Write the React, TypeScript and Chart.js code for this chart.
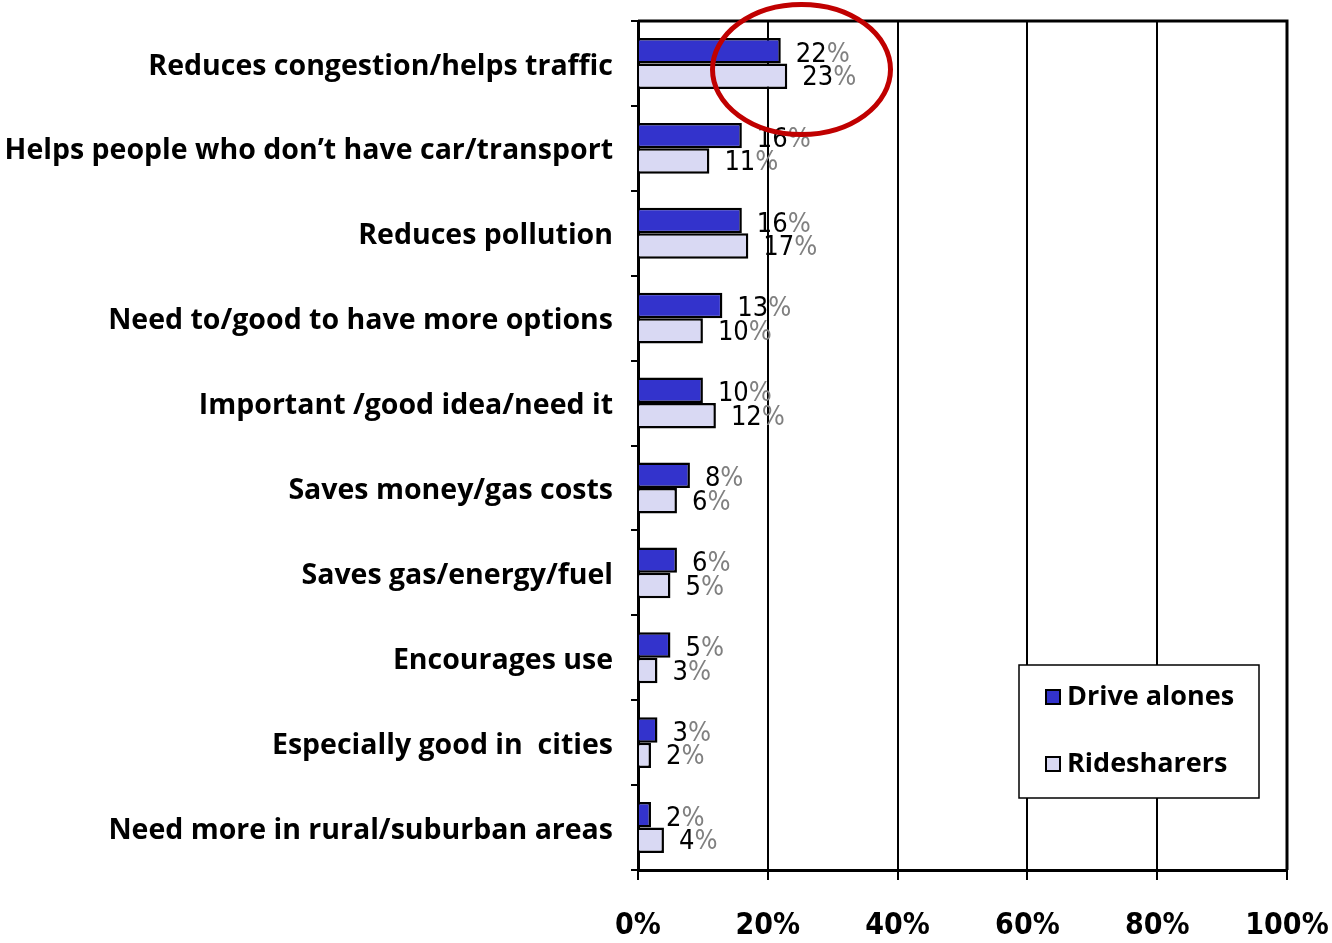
import React, { useEffect, useRef } from "react";
import { Chart, registerables } from "chart.js";

Chart.register(...registerables);

const categories = [
  "Reduces congestion/helps traffic",
  "Helps people who don\u2019t have car/transport",
  "Reduces pollution",
  "Need to/good to have more options",
  "Important /good idea/need it",
  "Saves money/gas costs",
  "Saves gas/energy/fuel",
  "Encourages use",
  "Especially good in  cities",
  "Need more in rural/suburban areas",
];
const driveAlones = [22, 16, 16, 13, 10, 8, 6, 5, 3, 2];
const ridesharers = [23, 11, 17, 10, 12, 6, 5, 3, 2, 4];
const seriesNames = ["Drive alones", "Ridesharers"];
const xTicks = [0, 20, 40, 60, 80, 100];

const DARK = "#3333cc";
const LIGHT = "#d9d9f3";
const CAT_FONT = "'Open Sans', sans-serif";
const NARROW = "'Liberation Sans Narrow', 'DejaVu Sans Condensed', sans-serif";

const decorPlugin = {
  id: "decor",
  afterDatasetsDraw(chart: any) {
    const ctx = chart.ctx;
    const area = chart.chartArea;
    ctx.save();
    // value labels
    chart.data.datasets.forEach((ds: any, di: number) => {
      const meta = chart.getDatasetMeta(di);
      meta.data.forEach((bar: any, i: number) => {
        const v = ds.data[i];
        const num = String(v);
        ctx.font = `27px ${NARROW}`;
        ctx.textBaseline = "middle";
        ctx.textAlign = "left";
        const x = bar.x + 15;
        const y = bar.y + (di === 0 ? 4 : 2);
        ctx.fillStyle = "#000";
        ctx.fillText(num, x, y);
        const w = ctx.measureText(num).width;
        ctx.fillStyle = "#808080";
        ctx.fillText("%", x + w, y);
      });
    });
    // top and right border
    ctx.strokeStyle = "#000";
    ctx.lineWidth = 3;
    ctx.beginPath();
    ctx.moveTo(area.left, area.top);
    ctx.lineTo(area.right, area.top);
    ctx.lineTo(area.right, area.bottom);
    ctx.stroke();
    // legend box
    const lx = 1019, ly = 665, lw = 240, lh = 133;
    ctx.fillStyle = "#fff";
    ctx.fillRect(lx, ly, lw, lh);
    ctx.lineWidth = 1.5;
    ctx.strokeRect(lx, ly, lw, lh);
    const items = [
      { name: seriesNames[0], color: DARK, cy: 697 },
      { name: seriesNames[1], color: LIGHT, cy: 764 },
    ];
    items.forEach((it) => {
      ctx.fillStyle = it.color;
      ctx.fillRect(1046, it.cy - 7, 14, 14);
      ctx.lineWidth = 2;
      ctx.strokeStyle = "#000";
      ctx.strokeRect(1046, it.cy - 7, 14, 14);
      ctx.fillStyle = "#000";
      ctx.font = `bold 27px ${CAT_FONT}`;
      ctx.textAlign = "left";
      ctx.textBaseline = "middle";
      ctx.fillText(it.name, 1067, it.cy);
    });
    // red ellipse
    ctx.strokeStyle = "#c00000";
    ctx.lineWidth = 5;
    ctx.beginPath();
    ctx.ellipse(801.5, 69.5, 89, 65, 0, 0, Math.PI * 2);
    ctx.stroke();
    ctx.restore();
  },
};

export default function App() {
  const ref = useRef<HTMLCanvasElement | null>(null);
  useEffect(() => {
    document.body.style.margin = "0";
    const chart = new Chart(ref.current as HTMLCanvasElement, {
      type: "bar",
      data: {
        labels: categories,
        datasets: [
          {
            label: seriesNames[0],
            data: driveAlones,
            backgroundColor: DARK,
            borderColor: "#000",
            borderWidth: 2.5,
            barPercentage: 1.0,
            categoryPercentage: 0.6,
          },
          {
            label: seriesNames[1],
            data: ridesharers,
            backgroundColor: LIGHT,
            borderColor: "#000",
            borderWidth: 2.5,
            barPercentage: 1.0,
            categoryPercentage: 0.6,
          },
        ],
      },
      options: {
        indexAxis: "y",
        responsive: false,
        animation: false,
        layout: { padding: { top: 21, right: 45, left: 0, bottom: 0 } },
        plugins: { legend: { display: false }, tooltip: { enabled: false } },
        scales: {
          x: {
            min: 0,
            max: 100,
            afterBuildTicks: (s: any) => {
              s.ticks = xTicks.map((v) => ({ value: v }));
            },
            afterFit: (s: any) => {
              s.height = 73;
              s.paddingLeft = 0;
              s.paddingRight = 0;
            },
            grid: {
              color: "#000",
              lineWidth: 2,
              tickLength: 10,
              drawTicks: true,
            },
            border: { color: "#000", width: 3 },
            ticks: {
              color: "#000",
              padding: 28,
              font: { family: NARROW, size: 30, weight: "bold" },
              callback: (v: any) => v + "%",
            },
          },
          y: {
            afterFit: (s: any) => {
              s.width = 638;
              s.paddingTop = 0;
              s.paddingBottom = 0;
            },
            grid: {
              offset: true,
              drawOnChartArea: false,
              drawTicks: true,
              tickLength: 7,
              color: "#000",
              lineWidth: 2,
            },
            border: { color: "#000", width: 3 },
            ticks: {
              color: "#000",
              padding: 18,
              labelOffset: 3,
              autoSkip: false,
              font: { family: CAT_FONT, size: 28.5, weight: "bold" },
            },
          },
        },
      },
      plugins: [decorPlugin],
    } as any);
    return () => chart.destroy();
  }, []);
  return (
    <div style={{ position: "absolute", left: 0, top: 0, width: 1332, height: 943 }}>
      <canvas ref={ref} width={1332} height={943} />
    </div>
  );
}
